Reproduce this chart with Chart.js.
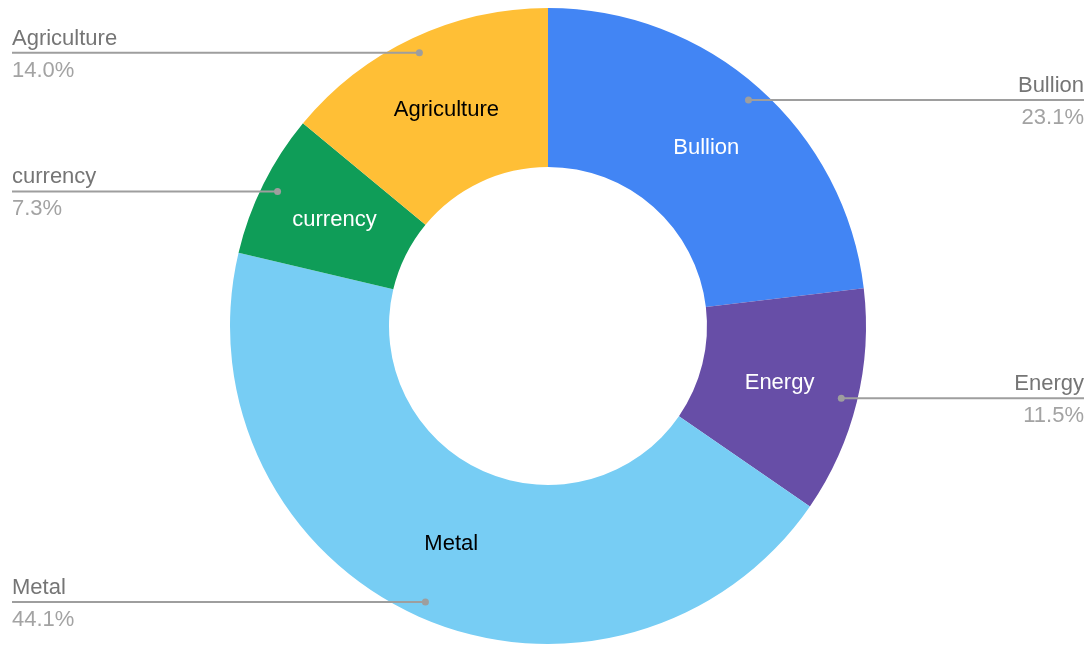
<!DOCTYPE html>
<html>
<head>
<meta charset="utf-8">
<script src="https://cdn.jsdelivr.net/npm/chart.js@4/dist/chart.umd.min.js"></script>
<style>
html,body{margin:0;padding:0;background:#fff;}
#wrap{width:1088px;height:645px;position:relative;}
</style>
</head>
<body>
<div id="wrap"><canvas id="c" width="1088" height="645"></canvas></div>
<script>
const categories = ["Bullion", "Energy", "Metal", "currency", "Agriculture"];
const values = [23.1, 11.5, 44.1, 7.3, 14.0];
const valueLabels = ["23.1%", "11.5%", "44.1%", "7.3%", "14.0%"];
const sliceColors = ["#4285F4", "#674EA7", "#77CDF4", "#0F9D58", "#FFBF36"];
const insideTextColors = ["#ffffff", "#ffffff", "#000000", "#ffffff", "#000000"];

const FONT = '22px "Liberation Sans", Arial, sans-serif';

const labelPlugin = {
  id: 'labels',
  afterDraw(chart) {
    const ctx = chart.ctx;
    const meta = chart.getDatasetMeta(0);
    const W = chart.width;
    ctx.save();
    ctx.font = FONT;
    meta.data.forEach((arc, i) => {
      const p = arc.getProps(['x','y','startAngle','endAngle','outerRadius','innerRadius'], true);
      const mid = (p.startAngle + p.endAngle) / 2;
      const cx = p.x, cy = p.y;
      // inside label
      const rm = (p.outerRadius + p.innerRadius) / 2;
      ctx.fillStyle = insideTextColors[i];
      ctx.textAlign = 'center';
      ctx.textBaseline = 'middle';
      ctx.fillText(categories[i], cx + rm * Math.cos(mid), cy + rm * Math.sin(mid));
      // leader line
      const rd = p.outerRadius * 0.95;
      const dx = cx + rd * Math.cos(mid);
      const dy = cy + rd * Math.sin(mid);
      const right = Math.cos(mid) > 0;
      const ex = right ? W - 4 : 12;
      ctx.strokeStyle = '#9e9e9e';
      ctx.lineWidth = 2;
      ctx.beginPath();
      ctx.moveTo(dx, dy);
      ctx.lineTo(ex, dy);
      ctx.stroke();
      ctx.fillStyle = '#9e9e9e';
      ctx.beginPath();
      ctx.arc(dx, dy, 3.5, 0, Math.PI * 2);
      ctx.fill();
      ctx.textAlign = right ? 'right' : 'left';
      ctx.textBaseline = 'alphabetic';
      ctx.fillStyle = '#757575';
      ctx.fillText(categories[i], ex, dy - 8);
      ctx.fillStyle = '#a3a3a3';
      ctx.fillText(valueLabels[i], ex, dy + 24);
    });
    ctx.restore();
  }
};

new Chart(document.getElementById('c'), {
  type: 'doughnut',
  data: {
    labels: categories,
    datasets: [{
      data: values,
      backgroundColor: sliceColors,
      borderWidth: 0,
      hoverOffset: 0
    }]
  },
  options: {
    responsive: false,
    animation: false,
    cutout: '50%',
    layout: { padding: { left: 230, right: 222, top: 8, bottom: 1 } },
    plugins: { legend: { display: false }, tooltip: { enabled: false } }
  },
  plugins: [labelPlugin]
});
</script>
</body>
</html>
